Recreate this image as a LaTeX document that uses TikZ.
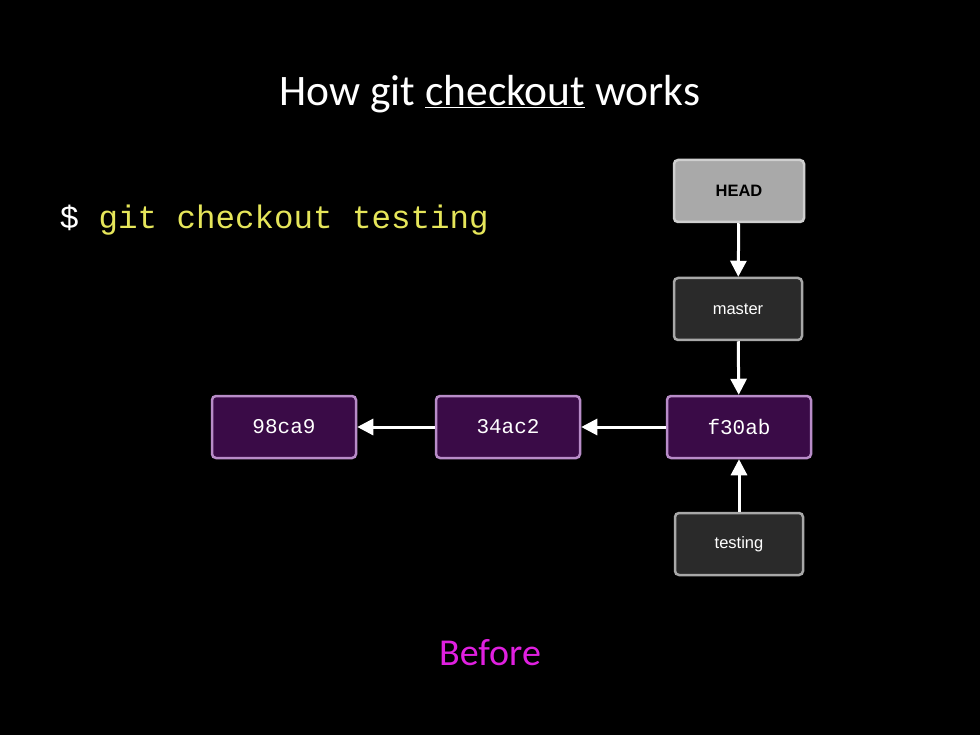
\documentclass[tikz,border=0pt]{standalone}
\usepackage{fontspec}
\setmainfont{Carlito}
\setmonofont{Liberation Mono}
\newfontfamily\boxsans{Liberation Sans}
\usetikzlibrary{arrows.meta, calc}
\definecolor{cmdyellow}{HTML}{E6E65A}
\definecolor{commitfill}{HTML}{3A0B47}
\definecolor{commitline}{HTML}{B88CC8}
\definecolor{branchfill}{HTML}{2A2A2A}
\definecolor{branchline}{HTML}{A8A8A8}
\definecolor{headfill}{HTML}{A9A9A9}
\definecolor{headline}{HTML}{CFCFCF}
\definecolor{beforepink}{HTML}{E020E0}

\begin{document}
\begin{tikzpicture}[x=1pt, y=-1pt, >={Triangle[length=16pt, width=16pt]},
  commit/.style={draw=commitline, line width=2.5pt, fill=commitfill, rounded corners=4pt, minimum width=144pt, minimum height=62pt, text=white, font=\ttfamily\fontsize{21}{21}\selectfont},
  branch/.style={draw=branchline, line width=2.5pt, fill=branchfill, rounded corners=4pt, minimum width=128pt, minimum height=62pt, text=white, font=\boxsans\fontsize{16.5}{16.5}\selectfont},
  link/.style={->, draw=white, line width=3pt}]
  \fill[black] (0,0) rectangle (980,735);
  \node[text=white, font=\fontsize{43.5}{43.5}\selectfont] (title) at (490,94) {How git \underline{checkout} works};
  \node[anchor=west, font=\ttfamily\fontsize{32.5}{32.5}\selectfont] (cmd) at (56,220) {\textcolor{white}{\$} \textcolor{cmdyellow}{git checkout testing}};
  \node[branch, fill=headfill, draw=headline, text=black, minimum width=130pt, font=\boxsans\bfseries\fontsize{16.5}{16.5}\selectfont] (head) at (739,191) {HEAD};
  \node[branch] (master) at (738,309) {master};
  \node[commit] (f30ab) at (739,427) {f30ab};
  \node[commit] (c34ac2) at (508,427) {34ac2};
  \node[commit] (c98ca9) at (284,427) {98ca9};
  \node[branch] (testing) at (739,544) {testing};
  \draw[link] (head) -- (master);
  \draw[link] (master) -- (f30ab);
  \draw[link] (testing) -- (f30ab);
  \draw[link] (f30ab) -- (c34ac2);
  \draw[link] (c34ac2) -- (c98ca9);
  \node[text=beforepink, font=\fontsize{38}{38}\selectfont] (before) at (490,653) {Before};
\end{tikzpicture}
\end{document}
